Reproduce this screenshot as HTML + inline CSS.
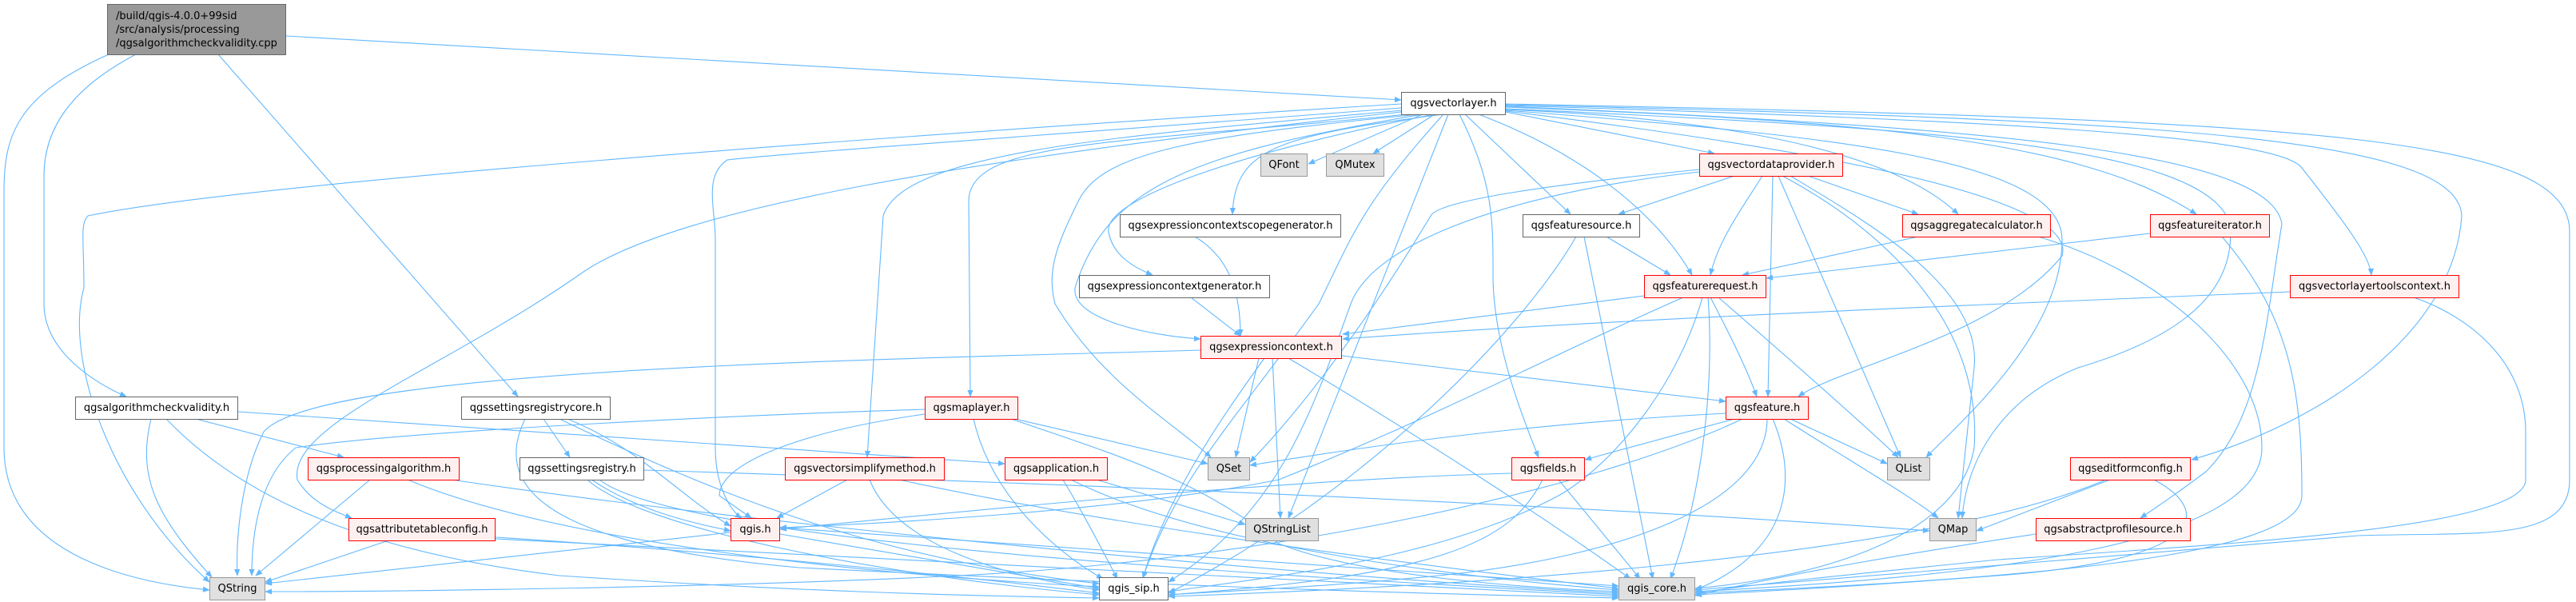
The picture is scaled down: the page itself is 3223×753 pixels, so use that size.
<!DOCTYPE html>
<html><head><meta charset="utf-8">
<style>
html,body{margin:0;padding:0;background:#fff;}
#c{position:relative;width:3223px;height:753px;overflow:hidden;font-family:"DejaVu Sans","Liberation Sans",sans-serif;font-size:13px;}
.n{position:absolute;box-sizing:border-box;height:29px;line-height:27px;text-align:center;white-space:nowrap;color:#000;border:1.5px solid #666;background:#fff;}
.r{border-color:#ff0000;background:#fff0f0;}
.g{border-color:#999;background:#e0e0e0;}
.m{background:#999;border-color:#666;height:64px;line-height:17px;text-align:left;padding:6px 10px;}
svg{position:absolute;left:0;top:0;}
</style></head><body><div id="c">
<svg width="3223" height="753" viewBox="0 0 3223 753">
<defs><marker id="a" viewBox="0 0 10 10" refX="9" refY="5" markerWidth="9" markerHeight="9" markerUnits="userSpaceOnUse" orient="auto"><path d="M0,1 L10,5 L0,9 z" fill="#63b8ff"/></marker></defs>
<g fill="none" stroke="#63b8ff" stroke-width="1.1" marker-end="url(#a)">
<!-- main -->
<path d="M358 45 L1753 125"/>
<path d="M136 68 C20 120 5 170 5 240 L5 560 C5 700 180 730 262 738"/>
<path d="M170 68 C90 110 55 160 55 220 L55 380 C55 440 120 480 158 496"/>
<path d="M273 68 L648 496"/>
<!-- vl -->
<path d="M1753 130 C1100 170 300 230 110 270 C100 280 105 300 105 360 C80 450 140 620 262 728"/>
<path d="M1753 135 C1300 170 1000 190 910 200 C880 220 895 260 895 300 L895 560 C895 610 915 640 928 648"/>
<path d="M1755 138 C1400 170 1130 190 1105 270 L1085 572"/>
<path d="M1760 143 C1400 180 1215 175 1212 250 L1214 496"/>
<path d="M1775 143 C1500 170 1380 190 1350 250 C1320 310 1310 340 1320 380 C1380 480 1470 530 1515 572"/>
<path d="M1780 143 C1500 190 1385 230 1345 360 C1340 400 1440 420 1502 424"/>
<path d="M1795 143 C1550 190 1380 250 1387 290 C1392 320 1420 335 1442 344"/>
<path d="M1805 143 C1600 170 1545 185 1542 268"/>
<path d="M1780 143 L1637 205"/>
<path d="M1795 143 L1718 192"/>
<path d="M1812 143 L1612 648"/>
<path d="M1826 143 C1870 230 1868 280 1868 350 C1870 430 1900 510 1925 572"/>
<path d="M1833 143 L1965 268"/>
<path d="M1850 143 C2000 200 2080 280 2117 344"/>
<path d="M1884 140 L2145 192"/>
<path d="M1884 137 C2200 150 2380 200 2450 268"/>
<path d="M1884 134 C2300 150 2600 170 2748 268"/>
<path d="M1884 132 C2500 150 2850 170 2880 210 C2935 280 2965 320 2967 344"/>
<path d="M1884 131 C2700 150 3075 170 3080 270 C3070 420 2900 530 2742 575"/>
<path d="M1884 136 C2400 160 2760 180 2790 280 C2800 380 2700 430 2600 460 C2500 500 2460 580 2455 648"/>
<path d="M1884 133 C2500 160 2840 190 2855 280 C2835 400 2830 520 2760 590 C2720 620 2690 640 2678 648"/>
<path d="M1884 130 C2900 150 3215 170 3215 290 L3215 600 C3215 680 3100 665 2950 670 C2700 690 2300 725 2121 738"/>
<path d="M1884 138 C2300 170 2580 200 2580 300 C2580 420 2450 530 2410 572"/>
<path d="M1884 139 C2300 190 2600 250 2580 320 C2500 420 2300 460 2250 496"/>
<path d="M1806 143 C1700 260 1690 300 1650 380 C1550 520 1470 600 1430 723"/>
<path d="M1753 140 C1200 200 850 260 730 340 C560 460 360 530 372 600 C390 630 420 640 440 648"/>
<!-- vdp -->
<path d="M2170 220 L2025 268"/>
<path d="M2205 220 C2180 260 2150 300 2140 344"/>
<path d="M2218 220 L2212 496"/>
<path d="M2225 220 L2378 572"/>
<path d="M2240 220 C2340 280 2480 360 2470 460 L2450 648"/>
<path d="M2262 220 L2400 268"/>
<path d="M2126 215 C1900 240 1720 300 1690 380 C1640 520 1600 640 1462 728"/>
<path d="M2126 212 C1950 230 1800 250 1790 270 C1700 420 1620 520 1564 578"/>
<path d="M2230 220 C2380 300 2480 420 2470 560 C2450 680 2250 725 2121 736"/>
<!-- fsrc -->
<path d="M2010 296 L2090 344"/>
<path d="M1982 296 L2068 724"/>
<path d="M1972 296 C1900 420 1700 620 1462 742"/>
<!-- freq -->
<path d="M2057 370 C1900 390 1750 410 1680 418"/>
<path d="M2140 372 C2165 420 2185 460 2198 496"/>
<path d="M2150 372 C2240 450 2320 520 2375 572"/>
<path d="M2137 372 C2145 480 2130 620 2090 724"/>
<path d="M2130 372 C2100 480 2020 580 1950 620 C1800 700 1600 720 1462 740"/>
<path d="M2106 372 C1950 440 1800 520 1600 600 C1400 640 1100 655 976 660"/>
<!-- ec -->
<path d="M1502 438 C1100 450 400 460 330 540 C300 600 295 680 297 720"/>
<path d="M1575 448 L1546 572"/>
<path d="M1592 448 L1602 648"/>
<path d="M1582 448 C1530 520 1460 620 1430 723"/>
<path d="M1612 448 C1800 560 1950 660 2040 724"/>
<path d="M1679 445 L2159 502"/>
<path d="M1495 296 C1535 320 1552 360 1552 420"/>
<path d="M1490 372 L1552 420"/>
<!-- feat -->
<path d="M2159 517 C1900 530 1700 560 1564 582"/>
<path d="M2170 524 L1983 575"/>
<path d="M2240 524 L2361 580"/>
<path d="M2232 524 C2320 580 2390 620 2425 648"/>
<path d="M2218 524 C2250 600 2240 690 2121 738"/>
<path d="M2211 524 C2210 640 2000 700 1800 720 C1650 735 1520 740 1462 744"/>
<path d="M2180 524 C2000 610 1600 700 1200 720 C900 735 500 740 332 740"/>
<!-- fields -->
<path d="M1891 592 C1600 600 1200 640 976 662"/>
<path d="M1950 600 L2052 724"/>
<path d="M1930 600 C1890 680 1800 720 1462 744"/>
<!-- maplayer -->
<path d="M1157 512 C900 520 500 540 370 560 C320 600 315 680 315 720"/>
<path d="M1157 518 C1000 540 900 580 900 620 L940 648"/>
<path d="M1270 524 L1511 580"/>
<path d="M1218 524 C1240 620 1320 690 1380 724"/>
<path d="M1265 524 C1400 570 1500 600 1600 680 C1700 720 1900 735 2025 740"/>
<!-- vsm -->
<path d="M1060 600 L972 648"/>
<path d="M1088 600 C1120 680 1250 720 1375 738"/>
<path d="M1125 600 C1400 660 1800 710 2025 736"/>
<!-- app -->
<path d="M1330 600 C1360 650 1380 690 1398 724"/>
<path d="M1340 600 C1500 680 1800 720 2025 738"/>
<path d="M1372 600 L1558 656"/>
<!-- qgis.h -->
<path d="M914 666 C700 690 500 710 332 730"/>
<path d="M976 668 L1375 736"/>
<path d="M976 660 C1400 690 1800 715 2025 733"/>
<!-- right nodes -->
<path d="M2400 296 L2180 344"/>
<path d="M2550 296 C2700 340 2830 450 2830 560 C2830 680 2500 720 2121 740"/>
<path d="M2690 292 L2210 348"/>
<path d="M2780 296 C2870 400 2880 500 2880 620 C2880 700 2500 725 2121 742"/>
<path d="M2865 365 C2500 380 2000 400 1680 424"/>
<path d="M3020 372 C3100 400 3160 460 3160 540 L3160 600 C3160 660 2800 680 2500 700 C2300 720 2200 730 2121 742"/>
<path d="M2640 600 L2473 664"/>
<path d="M2695 600 C2770 640 2760 700 2500 720 C2300 735 2200 740 2121 744"/>
<path d="M2635 600 C2400 700 1800 735 1462 746"/>
<path d="M2547 668 C2400 690 2250 715 2121 745"/>
<!-- setreg -->
<path d="M806 588 C1500 610 2100 640 2414 664"/>
<path d="M740 600 C800 640 870 655 914 664"/>
<path d="M750 600 C850 680 1600 720 2025 744"/>
<path d="M735 600 C800 660 1100 720 1375 744"/>
<!-- srcore -->
<path d="M680 524 L713 572"/>
<path d="M710 524 C800 560 850 620 914 658"/>
<path d="M657 524 C620 600 660 680 1000 710 C1600 740 1900 745 2025 748"/>
<path d="M700 524 C900 620 1100 700 1375 730"/>
<!-- procalg -->
<path d="M463 600 L320 720"/>
<path d="M510 600 C700 680 1100 720 1375 734"/>
<path d="M565 600 C900 650 1600 720 2025 742"/>
<!-- attr -->
<path d="M486 676 L332 728"/>
<path d="M620 674 C1200 700 1700 730 2025 746"/>
<path d="M620 672 C900 690 1200 720 1375 742"/>
<!-- algo.h -->
<path d="M189 524 C170 600 200 650 265 722"/>
<path d="M208 524 C300 620 450 690 700 720 C1000 740 1200 745 1375 748"/>
<path d="M245 524 L430 572"/>
<path d="M298 515 C700 540 1000 560 1257 580"/>
</g>
</svg>
<div class="n m" style="left:134px;top:5px;width:224px;">/build/qgis-4.0.0+99sid<br>/src/analysis/processing<br>/qgsalgorithmcheckvalidity.cpp</div>
<div class="n" style="left:1753px;top:115px;width:131px;">qgsvectorlayer.h</div>
<div class="n g" style="left:1577px;top:192px;width:59px;">QFont</div>
<div class="n g" style="left:1659px;top:192px;width:73px;">QMutex</div>
<div class="n r" style="left:2126px;top:192px;width:180px;">qgsvectordataprovider.h</div>
<div class="n" style="left:1401px;top:268px;width:277px;">qgsexpressioncontextscopegenerator.h</div>
<div class="n" style="left:1905px;top:268px;width:147px;">qgsfeaturesource.h</div>
<div class="n r" style="left:2380px;top:268px;width:186px;">qgsaggregatecalculator.h</div>
<div class="n r" style="left:2690px;top:268px;width:150px;">qgsfeatureiterator.h</div>
<div class="n" style="left:1350px;top:344px;width:239px;">qgsexpressioncontextgenerator.h</div>
<div class="n r" style="left:2057px;top:344px;width:153px;">qgsfeaturerequest.h</div>
<div class="n r" style="left:2865px;top:344px;width:212px;">qgsvectorlayertoolscontext.h</div>
<div class="n r" style="left:1502px;top:420px;width:177px;">qgsexpressioncontext.h</div>
<div class="n" style="left:94px;top:496px;width:204px;">qgsalgorithmcheckvalidity.h</div>
<div class="n" style="left:577px;top:496px;width:187px;">qgssettingsregistrycore.h</div>
<div class="n r" style="left:1157px;top:496px;width:117px;">qgsmaplayer.h</div>
<div class="n r" style="left:2159px;top:496px;width:104px;">qgsfeature.h</div>
<div class="n r" style="left:385px;top:572px;width:190px;">qgsprocessingalgorithm.h</div>
<div class="n" style="left:650px;top:572px;width:156px;">qgssettingsregistry.h</div>
<div class="n r" style="left:982px;top:572px;width:200px;">qgsvectorsimplifymethod.h</div>
<div class="n r" style="left:1257px;top:572px;width:129px;">qgsapplication.h</div>
<div class="n g" style="left:1511px;top:572px;width:53px;">QSet</div>
<div class="n r" style="left:1891px;top:572px;width:92px;">qgsfields.h</div>
<div class="n g" style="left:2361px;top:572px;width:54px;">QList</div>
<div class="n r" style="left:2590px;top:572px;width:151px;">qgseditformconfig.h</div>
<div class="n r" style="left:436px;top:648px;width:184px;">qgsattributetableconfig.h</div>
<div class="n r" style="left:914px;top:648px;width:62px;">qgis.h</div>
<div class="n g" style="left:1558px;top:648px;width:92px;">QStringList</div>
<div class="n g" style="left:2414px;top:648px;width:59px;">QMap</div>
<div class="n r" style="left:2547px;top:648px;width:194px;">qgsabstractprofilesource.h</div>
<div class="n g" style="left:262px;top:722px;width:70px;">QString</div>
<div class="n" style="left:1375px;top:722px;width:87px;">qgis_sip.h</div>
<div class="n g" style="left:2025px;top:722px;width:96px;">qgis_core.h</div>
</div></body></html>
